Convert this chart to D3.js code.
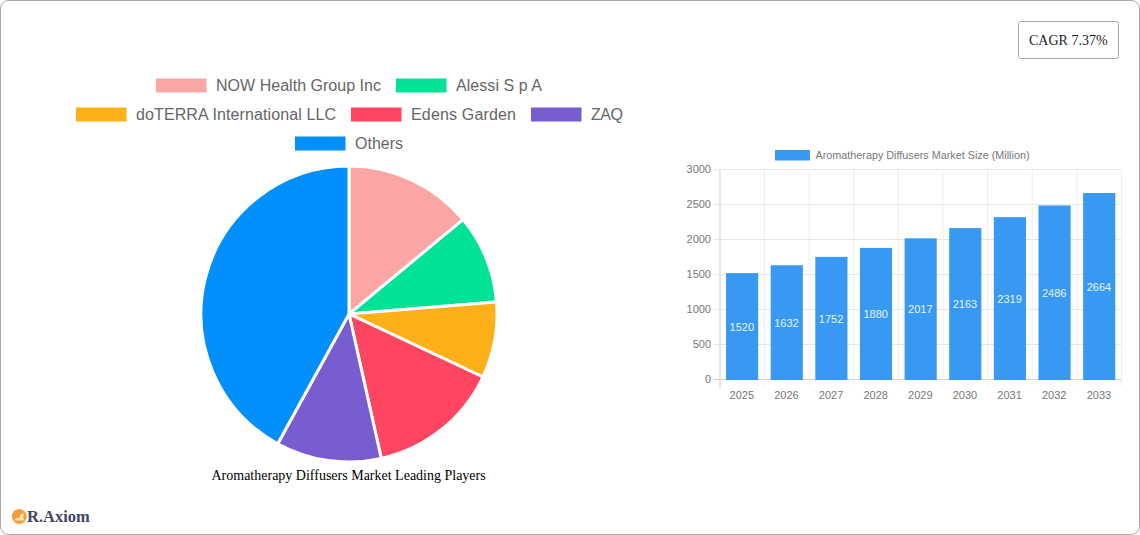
<!DOCTYPE html>
<html><head><meta charset="utf-8">
<script src="https://cdn.jsdelivr.net/npm/d3@7"></script>
<style>html,body{margin:0;padding:0;background:#fff}svg{display:block}</style>
</head><body><svg id="c" width="1140" height="535"></svg>
<script>
const players=["NOW Health Group Inc","Alessi S p A","doTERRA International LLC","Edens Garden","ZAQ","Others"];
const shares=[14,9.7,8.3,14.5,11.5,42];
const pieColors=["#fca5a5","#00e396","#feb019","#ff4560","#775dd0","#008ffb"];
const years=["2025","2026","2027","2028","2029","2030","2031","2032","2033"];
const sizes=[1520,1632,1752,1880,2017,2163,2319,2486,2664];
const yTicks=[0,500,1000,1500,2000,2500,3000];
const legendRows=[[0,1],[2,3,4],[5]];
const legendRowX=[156,76,295];
const legendRowY=[85.5,114.5,143.5];
const legendWidths=[165,86,200,105,32,48];
const sans="'Liberation Sans',Arial,sans-serif", serif="'Liberation Serif','Times New Roman',serif";
const svg=d3.select("#c");
svg.append("rect").attr("x",.5).attr("y",.5).attr("width",1139).attr("height",534).attr("rx",8).attr("fill","#fff").attr("stroke","#a8a8a8");
// CAGR
svg.append("rect").attr("x",1018.5).attr("y",21.5).attr("width",100).attr("height",37).attr("rx",2).attr("fill","#fff").attr("stroke","#a8a8a8");
svg.append("text").attr("x",1068.3).attr("y",44.5).attr("text-anchor","middle").attr("font-family",serif).attr("font-size",14).attr("fill","#1a1a2e").text("CAGR 7.37%");
// legend
const lg=svg.append("g");
legendRows.forEach((row,ri)=>{
  let x=legendRowX[ri];
  row.forEach(i=>{
    lg.append("rect").attr("x",x).attr("y",legendRowY[ri]-7).attr("width",50.5).attr("height",14).attr("fill",pieColors[i]);
    lg.append("text").attr("x",x+60).attr("y",legendRowY[ri]+5.5).attr("font-family",sans).attr("font-size",16).attr("fill","#666")
      .attr("textLength",legendWidths[i]).attr("lengthAdjust","spacing").text(players[i]);
    x+=60+legendWidths[i]+15;
  });
});
// pie
const pie=d3.pie().sort(null)(shares);
const arc=d3.arc().innerRadius(0).outerRadius(148);
svg.append("g").attr("transform","translate(349,314)").selectAll("path").data(pie).join("path")
  .attr("d",arc).attr("fill",(d,i)=>pieColors[i]).attr("stroke","#fff").attr("stroke-width",3);
svg.append("text").attr("x",348.6).attr("y",480).attr("text-anchor","middle").attr("font-family",serif).attr("font-size",14).attr("fill","#000").text("Aromatherapy Diffusers Market Leading Players");
// bar chart
const x=d3.scaleBand().domain(years).range([719.8,1121.5]);
const y=d3.scaleLinear().domain([0,3000]).range([380,170]);
const grid=svg.append("g").attr("stroke-width",1);
yTicks.forEach(v=>grid.append("line").attr("x1",714).attr("x2",1121).attr("y1",y(v)-.5).attr("y2",y(v)-.5).attr("stroke",v===0?"#cfcfcf":"#e6e6e6"));
x.domain().forEach(d=>grid.append("line").attr("x1",x(d)+x.bandwidth()).attr("x2",x(d)+x.bandwidth()).attr("y1",170).attr("y2",386).attr("stroke","#eeeeee"));
grid.append("line").attr("x1",720).attr("x2",720).attr("y1",170).attr("y2",388).attr("stroke","#cfcfcf");
svg.append("g").selectAll("rect").data(sizes).join("rect")
  .attr("x",(d,i)=>x(years[i])+x.bandwidth()*.14).attr("width",x.bandwidth()*.72)
  .attr("y",d=>y(d)-.5).attr("height",d=>y(0)-y(d)+.5).attr("fill","#3899f2");
svg.append("g").selectAll("text").data(sizes).join("text")
  .attr("x",(d,i)=>x(years[i])+x.bandwidth()/2-.3).attr("y",d=>(y(d)+y(0))/2+4).attr("text-anchor","middle")
  .attr("font-family",sans).attr("font-size",11).attr("fill","#e8f3fe").text(d=>d);
svg.append("g").selectAll("text").data(yTicks).join("text")
  .attr("x",711).attr("y",d=>y(d)+3).attr("text-anchor","end").attr("font-family",sans).attr("font-size",11).attr("fill","#777").text(d=>d);
svg.append("g").selectAll("text").data(years).join("text")
  .attr("x",d=>x(d)+x.bandwidth()/2-.3).attr("y",399).attr("text-anchor","middle").attr("font-family",sans).attr("font-size",11).attr("fill","#777").text(d=>d);
svg.append("rect").attr("x",775).attr("y",150).attr("width",35).attr("height",10.5).attr("fill","#3899f2");
svg.append("text").attr("x",815.5).attr("y",159).attr("font-family",sans).attr("font-size",10.8).attr("fill","#777").text("Aromatherapy Diffusers Market Size (Million)");
// logo
const lo=svg.append("g");
lo.append("circle").attr("cx",19.3).attr("cy",516.5).attr("r",7.4).attr("fill","#f4a03a");
lo.append("path").attr("d","M15 520.5h8.5v-8l-3.5 2.5v2.5l-3 .5-2 1z").attr("fill","#fde3c0");
lo.append("text").attr("x",27).attr("y",522).attr("font-family",serif).attr("font-weight","bold").attr("font-size",16.5).attr("fill","#2b2b52").attr("opacity",.88).text("R.Axiom");
</script></body></html>
